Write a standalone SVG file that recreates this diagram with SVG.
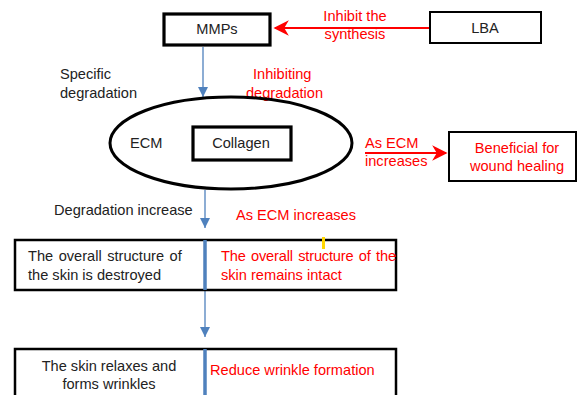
<svg xmlns="http://www.w3.org/2000/svg" width="578" height="395" viewBox="0 0 578 395">
<style>
text{font-family:"Liberation Sans",Arial,sans-serif;font-size:14.6px;fill:#222}
.r{fill:#ff0000}
.m{text-anchor:middle}
.w{word-spacing:1.5px}
.box{fill:#fff;stroke:#000}
.blue{stroke:#4f81bd;stroke-width:1.3;fill:none}
.div{stroke:#4f81bd;stroke-width:3.5}
</style>
<defs>
<marker id="ab" viewBox="0 0 10 10" refX="10" refY="5" markerWidth="10" markerHeight="10" markerUnits="userSpaceOnUse" orient="auto"><path d="M0,0 L10,5 L0,10 z" fill="#4f81bd"/></marker>
<marker id="ar" viewBox="0 0 10 10" refX="9" refY="5" markerWidth="7" markerHeight="7" orient="auto"><path d="M0,0 L10,5 L0,10 L3,5 z" fill="#ff0000"/></marker>
</defs>
<g id="connectors">
<line class="blue" x1="203" y1="47" x2="203" y2="97" marker-end="url(#ab)"/>
<line class="blue" x1="205" y1="190" x2="205" y2="228" marker-end="url(#ab)"/>
<line class="blue" x1="205" y1="291" x2="205" y2="337" marker-end="url(#ab)"/>
<line x1="429" y1="28" x2="275" y2="28" stroke="#ff0000" stroke-width="2.2" marker-end="url(#ar)"/>
<line x1="365" y1="153" x2="446" y2="153" stroke="#ff0000" stroke-width="2.2" marker-end="url(#ar)"/>
</g>
<g id="mmps"><rect class="box" x="164" y="14" width="106" height="31" stroke-width="3.2"/><text class="m" x="217" y="34">MMPs</text></g>
<g id="lba"><rect class="box" x="430" y="12" width="111" height="31" stroke-width="2"/><text class="m" x="485" y="33">LBA</text></g>
<g id="inhibit-label"><text class="r m" x="355" y="21">Inhibit the</text><text class="r m" x="355" y="39">synthesis</text></g>
<g id="specific-label"><text x="60" y="79">Specific</text><text x="60" y="98">degradation</text></g>
<g id="inhibiting-label"><text class="r" x="253" y="79">Inhibiting</text><text class="r" x="246" y="98">degradation</text></g>
<g id="ecm"><ellipse cx="231" cy="143" rx="121" ry="46" fill="none" stroke="#000" stroke-width="3"/><text x="130" y="148">ECM</text></g>
<g id="collagen"><rect class="box" x="193" y="127" width="98" height="33" stroke-width="3.2"/><text class="m" x="241" y="148">Collagen</text></g>
<g id="as-ecm-label"><text class="r" x="365" y="148">As ECM</text><text class="r" x="365" y="166">increases</text></g>
<g id="beneficial"><rect class="box" x="449" y="132" width="127" height="49" stroke-width="2"/><text class="r m" x="517" y="153">Beneficial for</text><text class="r m" x="517" y="171">wound  healing</text></g>
<g id="degradation-label"><text x="54" y="215">Degradation increase</text></g>
<g id="as-ecm2-label"><text class="r" x="236" y="220">As ECM increases</text></g>
<g id="structure">
<rect class="box" x="15" y="240" width="381" height="50" stroke-width="2.5"/>
<line class="div" x1="205" y1="240" x2="205" y2="290"/>
<rect x="322" y="237" width="3" height="12" fill="#ffd700"/>
<text class="w" x="28" y="261">The overall structure of</text>
<text x="28" y="280">the skin is destroyed</text>
<text class="r w" x="221" y="261" textLength="175" lengthAdjust="spacing">The overall structure of the</text>
<text class="r" x="221" y="280">skin remains intact</text>
</g>
<g id="wrinkles">
<rect class="box" x="15" y="349" width="381" height="60" stroke-width="2.5"/>
<line class="div" x1="205" y1="349" x2="205" y2="395"/>
<text class="m" x="109" y="371">The skin relaxes and</text>
<text class="m" x="109" y="389">forms wrinkles</text>
<text class="r" x="210" y="375">Reduce wrinkle formation</text>
</g>
</svg>
